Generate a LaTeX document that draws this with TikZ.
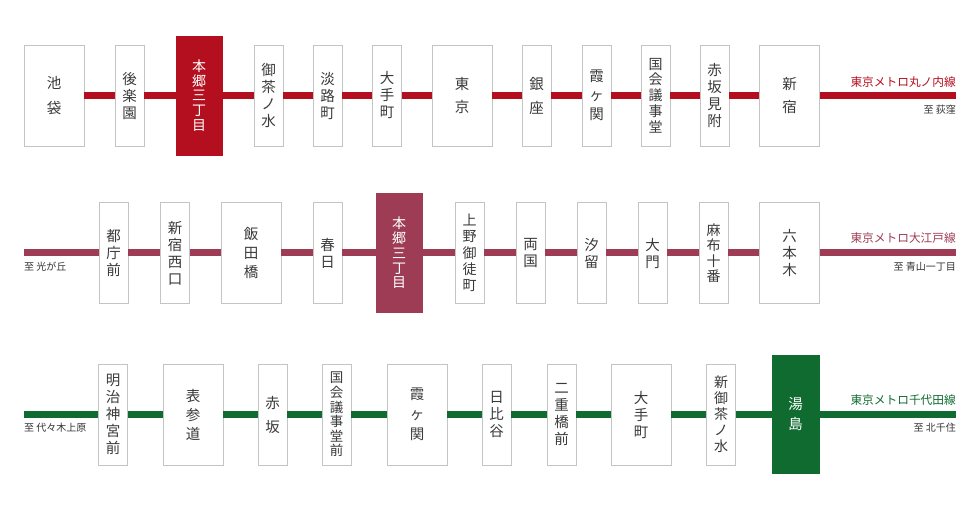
\documentclass[tikz,border=0pt]{standalone}
\usepackage{fontspec}
\newfontfamily\jp{Noto Sans CJK JP}
\definecolor{mred}{HTML}{B40F1E}
\definecolor{oedo}{HTML}{9E3C55}
\definecolor{chiyo}{HTML}{106B31}
\definecolor{boxgray}{HTML}{C4C4C4}
\definecolor{txt}{HTML}{3A3A3A}
\definecolor{sub}{HTML}{333333}
\begin{document}
\begin{tikzpicture}[x=1pt,y=-1pt,
  stn/.style={draw=boxgray, line width=0.9pt, fill=white, text=txt, inner sep=0pt, align=center, minimum width=29pt, minimum height=101pt, font=\jp\fontsize{14.5}{17}\selectfont},
  wide/.style={minimum width=60pt},
  tight/.style={font=\jp\fontsize{13.5}{14.6}\selectfont},
  hl/.style={fill=#1, draw=#1, text=white, minimum width=46pt, minimum height=119pt, inner sep=0pt, align=center, font=\jp\fontsize{14}{14.8}\selectfont},
  rail/.style={draw=#1, line width=7pt},
  linename/.style={text=#1, inner sep=0pt, anchor=east, font=\jp\fontsize{11.7}{13}\selectfont},
  dest/.style={text=sub, inner sep=0pt, font=\jp\fontsize{10}{12}\selectfont}
]
\fill[white] (0,0) rectangle (980,510);
\useasboundingbox (0,0) rectangle (980,510);

% ---------------- Row 1: Marunouchi ----------------
\node[stn,wide] (m1) at (54,95.5) {池\\[8pt]袋};
\node[stn] (m2) at (129.5,95.5) {後\\楽\\園};
\node[hl=mred] (m3) at (199,95.5) {本\\郷\\三\\丁\\目};
\node[stn] (m4) at (268.5,95.5) {御\\茶\\ノ\\水};
\node[stn] (m5) at (327.5,95.5) {淡\\路\\町};
\node[stn] (m6) at (387,95.5) {大\\手\\町};
\node[stn,wide] (m7) at (462,95.5) {東\\[6pt]京};
\node[stn] (m8) at (536.5,95.5) {銀\\[7pt]座};
\node[stn] (m9) at (596.5,95.5) {霞\\[2pt]ヶ\\[2pt]関};
\node[stn,font=\jp\fontsize{14}{15.8}\selectfont] (m10) at (655.5,95.5) {国\\会\\議\\事\\堂};
\node[stn] (m11) at (714.5,95.5) {赤\\坂\\見\\附};
\node[stn,wide] (m12) at (789.5,95.5) {新\\[6pt]宿};
\coordinate (m13) at (956,95.5);
\foreach \a/\b in {m1/m2,m2/m3,m3/m4,m4/m5,m5/m6,m6/m7,m7/m8,m8/m9,m9/m10,m10/m11,m11/m12,m12/m13}
  \draw[rail=mred] (\a) -- (\b);
\node[linename=mred] (n1) at (956,82) {東京メトロ丸ノ内線};
\node[dest, anchor=east] (d1) at (956,110) {至 荻窪};

% ---------------- Row 2: Oedo ----------------
\coordinate (o0) at (24,253);
\node[stn] (o1) at (113.5,253) {都\\庁\\前};
\node[stn] (o2) at (175,253) {新\\宿\\西\\口};
\node[stn,wide] (o3) at (251,253) {飯\\[2pt]田\\[2pt]橋};
\node[stn] (o4) at (327.5,253) {春\\日};
\node[hl=oedo] (o5) at (399,253) {本\\郷\\三\\丁\\目};
\node[stn,font=\jp\fontsize{14}{16.3}\selectfont] (o6) at (469.5,253) {上\\野\\御\\徒\\町};
\node[stn] (o7) at (530.5,253) {両\\国};
\node[stn] (o8) at (591.5,253) {汐\\留};
\node[stn] (o9) at (652.5,253) {大\\門};
\node[stn,font=\jp\fontsize{14}{15.5}\selectfont] (o10) at (713.5,253) {麻\\布\\十\\番};
\node[stn,wide] (o11) at (789.5,253) {六\\本\\木};
\coordinate (o12) at (956,253);
\foreach \a/\b in {o0/o1,o1/o2,o2/o3,o3/o4,o4/o5,o5/o6,o6/o7,o7/o8,o8/o9,o9/o10,o10/o11,o11/o12}
  \draw[rail=oedo] (\a) -- (\b);
\node[linename=oedo] (n2) at (956,238) {東京メトロ大江戸線};
\node[dest, anchor=east] (d2) at (956,267) {至 青山一丁目};
\node[dest, anchor=west] (d2l) at (24,267) {至 光が丘};

% ---------------- Row 3: Chiyoda ----------------
\coordinate (c0) at (24,414.5);
\node[stn] (c1) at (113,414.5) {明\\治\\神\\宮\\前};
\node[stn,wide] (c2) at (193,414.5) {表\\[2pt]参\\[2pt]道};
\node[stn] (c3) at (272.5,414.5) {赤\\[7pt]坂};
\node[stn,tight] (c4) at (336.5,414.5) {国\\会\\議\\事\\堂\\前};
\node[stn,wide] (c5) at (417,414.5) {霞\\[3pt]ヶ\\[3pt]関};
\node[stn] (c6) at (496.5,414.5) {日\\比\\谷};
\node[stn] (c7) at (561.5,414.5) {二\\重\\橋\\前};
\node[stn,wide] (c8) at (641,414.5) {大\\手\\町};
\node[stn,font=\jp\fontsize{14}{16}\selectfont] (c9) at (721,414.5) {新\\御\\茶\\ノ\\水};
\node[hl=chiyo, minimum width=47pt, minimum height=118pt, font=\jp\fontsize{14.5}{20}\selectfont] (c10) at (795.5,414.5) {湯\\島};
\coordinate (c11) at (956,414.5);
\foreach \a/\b in {c0/c1,c1/c2,c2/c3,c3/c4,c4/c5,c5/c6,c6/c7,c7/c8,c8/c9,c9/c10,c10/c11}
  \draw[rail=chiyo] (\a) -- (\b);
\node[linename=chiyo] (n3) at (956,400) {東京メトロ千代田線};
\node[dest, anchor=east] (d3) at (956,428) {至 北千住};
\node[dest, anchor=west] (d3l) at (24,428) {至 代々木上原};
\end{tikzpicture}
\end{document}
